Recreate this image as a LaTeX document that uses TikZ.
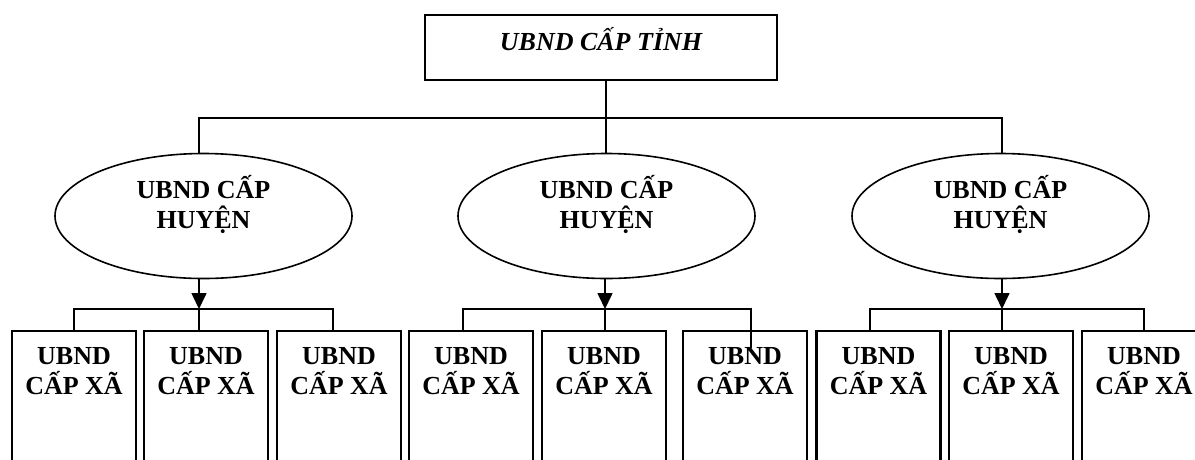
\documentclass[tikz,border=0pt]{standalone}
\usepackage{fontspec}
\setmainfont{Liberation Serif}
\usetikzlibrary{shapes.geometric,arrows.meta}
\begin{document}
\begin{tikzpicture}[x=1pt,y=-1pt,
  every node/.style={font=\fontsize{26}{30}\selectfont\bfseries},
  topbox/.style={draw,line width=1.6pt,outer sep=0pt,minimum width=352pt,minimum height=65pt,inner sep=0pt,text height=24pt,text depth=19pt,font=\fontsize{26}{30}\selectfont\bfseries\itshape},
  huyen/.style={draw,ellipse,line width=1.6pt,outer sep=0pt,minimum width=297pt,minimum height=125pt,inner sep=0pt,align=center},
  xa/.style={draw,line width=2.4pt,outer sep=0pt,anchor=north,minimum width=124pt,inner xsep=0pt,inner ysep=16pt,align=center},
  conn/.style={line width=1.6pt},
  arr/.style={line width=1.6pt,-{Triangle[length=16pt,width=15pt]}}
]
\useasboundingbox (0,0) rectangle (1195,459);
\clip (0,0) rectangle (1195,459);

\node[topbox] (top) at (601,47.5) {UBND CẤP TỈNH};

\node[huyen] (e1) at (203.5,216) {UBND CẤP\\HUYỆN\rule[-29pt]{0pt}{0pt}};
\node[huyen] (e2) at (606.5,216) {UBND CẤP\\HUYỆN\rule[-29pt]{0pt}{0pt}};
\node[huyen] (e3) at (1000.5,216) {UBND CẤP\\HUYỆN\rule[-29pt]{0pt}{0pt}};

\foreach \n/\x in {x1/74,x2/206,x3/339,x4/471,x5/604,x6/745,x7/878.5,x8/1011,x9/1144}{
  \node[xa] (\n) at (\x,331) {UBND\\CẤP XÃ\rule[-110pt]{0pt}{0pt}};
}

% top level connectors
\coordinate (bL) at (199,118);
\coordinate (bM) at (606,118);
\coordinate (bR) at (1002,118);
\draw[conn] (bM) -- (bM |- top.south);
\draw[conn] (bL |- e1.north) -- (bL) -- (bR) -- (bR |- e3.north);
\draw[conn] (bM) -- (bM |- e2.north);

% group 1
\coordinate (g1) at (199,309);
\coordinate (g1l) at (74,309);
\coordinate (g1r) at (333,309);
\draw[arr] (g1 |- e1.south) -- (g1);
\draw[conn] (x1.north -| g1l) -- (g1l) -- (g1r) -- (x3.north -| g1r);
\draw[conn] (g1) -- (x2.north -| g1);

% group 2
\coordinate (g2) at (605,309);
\coordinate (g2l) at (463,309);
\coordinate (g2r) at (751,309);
\coordinate (g2e) at (751,348);
\draw[arr] (g2 |- e2.south) -- (g2);
\draw[conn] (x4.north -| g2l) -- (g2l) -- (g2r) -- (g2e);
\draw[conn] (g2) -- (x5.north -| g2);

% group 3
\coordinate (g3) at (1002,309);
\coordinate (g3l) at (870,309);
\coordinate (g3r) at (1144,309);
\draw[arr] (g3 |- e3.south) -- (g3);
\draw[conn] (x7.north -| g3l) -- (g3l) -- (g3r) -- (x9.north -| g3r);
\draw[conn] (g3) -- (x8.north -| g3);
\end{tikzpicture}
\end{document}
